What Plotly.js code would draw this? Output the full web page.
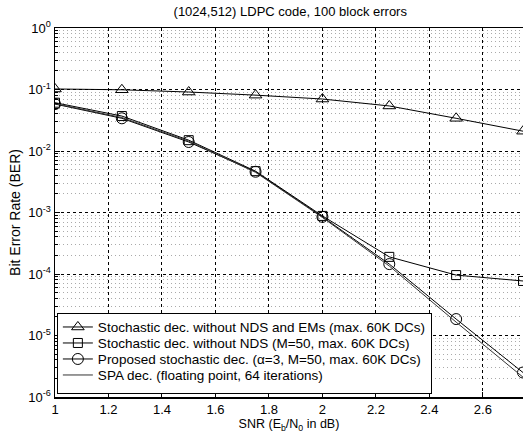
<!DOCTYPE html>
<html>
<head>
<meta charset="utf-8">
<script src="https://cdn.plot.ly/plotly-3.0.1.min.js"></script>
<style>html,body{margin:0;padding:0;background:#fff;}#chart{width:523px;height:438px;}</style>
</head>
<body>
<div id="chart"></div>
<script>
const snr = [1.0, 1.25, 1.5, 1.75, 2.0, 2.25, 2.5, 2.75];
const berNoNdsNoEm = [0.102, 0.099, 0.091, 0.081, 0.070, 0.054, 0.034, 0.021];
const berNoNds = [0.061, 0.037, 0.015, 0.0047, 0.00088, 0.00019, 0.000096, 0.000077];
const berProposed = [0.058, 0.034, 0.014, 0.0046, 0.00085, 0.000145, 0.0000185, 0.0000025];
const berSpa = [0.059, 0.035, 0.0145, 0.0045, 0.00083, 0.000135, 0.0000165, 0.0000021];
const names = [
  'Stochastic dec. without NDS and EMs (max. 60K DCs)',
  'Stochastic dec. without NDS (M=50, max. 60K DCs)',
  'Proposed stochastic dec. (\u03b1=3, M=50, max. 60K DCs)',
  'SPA dec. (floating point, 64 iterations)'
];
const yTickVals = [1e-6, 1e-5, 1e-4, 1e-3, 1e-2, 1e-1, 1];
const yTickText = ['10<sup>-6</sup>', '10<sup>-5</sup>', '10<sup>-4</sup>', '10<sup>-3</sup>', '10<sup>-2</sup>', '10<sup>-1</sup>', '10<sup>0</sup>'];
const xTickVals = [1, 1.2, 1.4, 1.6, 1.8, 2, 2.2, 2.4, 2.6];
const xTickText = ['1', '1.2', '1.4', '1.6', '1.8', '2', '2.2', '2.4', '2.6'];

const minorY = [];
for (let e = -6; e < 0; e++) for (let m = 2; m <= 9; m++) minorY.push(m * Math.pow(10, e));

const traces = [
  {x: snr, y: berNoNdsNoEm, name: names[0], mode: 'lines+markers',
   line: {color: '#000', width: 1}, marker: {symbol: 'triangle-up-open', size: 11, color: '#000', line: {width: 1}}},
  {x: snr, y: berNoNds, name: names[1], mode: 'lines+markers',
   line: {color: '#000', width: 1}, marker: {symbol: 'square-open', size: 9, color: '#000', line: {width: 1}}},
  {x: snr, y: berProposed, name: names[2], mode: 'lines+markers',
   line: {color: '#000', width: 1}, marker: {symbol: 'circle-open', size: 11, color: '#000', line: {width: 1}}},
  {x: snr, y: berSpa, name: names[3], mode: 'lines',
   line: {color: '#333', width: 1}}
];

const layout = {
  width: 523, height: 438,
  margin: {l: 55, r: 0, t: 28, b: 41},
  paper_bgcolor: '#fff', plot_bgcolor: '#fff',
  font: {family: 'Liberation Sans, Arial, sans-serif', size: 13, color: '#000'},
  title: {text: '(1024,512) LDPC code, 100 block errors', font: {size: 13}, x: 0.555, xanchor: 'center', y: 0.973, yanchor: 'middle'},
  showlegend: true,
  legend: {x: 0.004, y: 0.008, xanchor: 'left', yanchor: 'bottom', bgcolor: '#fff', bordercolor: '#000', borderwidth: 1,
           font: {size: 13.5}, tracegroupgap: 0, itemwidth: 30},
  xaxis: {
    range: [1, 2.75], tickmode: 'array', tickvals: xTickVals, ticktext: xTickText,
    showline: true, linecolor: '#000', linewidth: 1.5, mirror: true,
    ticks: 'inside', ticklen: 5, tickcolor: '#000',
    showgrid: true, gridcolor: '#000', gridwidth: 1, griddash: '3px,3px',
    zeroline: false, tickfont: {size: 13},
    title: {text: 'SNR (E<sub>b</sub>/N<sub>0</sub> in dB)', font: {size: 12.5}, standoff: 1}
  },
  yaxis: {
    type: 'log', range: [-6, 0], tickmode: 'array', tickvals: yTickVals, ticktext: yTickText,
    showline: true, linecolor: '#000', linewidth: 1.5, mirror: false,
    ticks: 'inside', ticklen: 5, tickcolor: '#000',
    showgrid: true, gridcolor: '#000', gridwidth: 1, griddash: '3px,3px',
    zeroline: false, tickfont: {size: 13},
    minor: {tickmode: 'array', tickvals: minorY, ticks: 'inside', ticklen: 3, tickcolor: '#000',
            showgrid: true, gridcolor: '#aaa', gridwidth: 1, griddash: '1px,3px'},
    title: {text: 'Bit Error Rate (BER)', font: {size: 14}, standoff: 4}
  }
};

function tightenLegend(gd) {
  try {
    const leg = gd.querySelector('.legend');
    if (!leg) return;
    const items = Array.from(leg.querySelectorAll('.traces'));
    if (items.length < 2) return;
    const parse = t => /translate\(\s*([-\d.e]+)[ ,]+([-\d.e]+)\s*\)/.exec(t || '');
    const m0 = parse(items[0].getAttribute('transform'));
    const mL = parse(items[items.length - 1].getAttribute('transform'));
    if (!m0 || !mL) return;
    const y0 = +m0[2] - 2;
    const step = 16;
    items.forEach((it, i) => {
      const m = parse(it.getAttribute('transform'));
      it.setAttribute('transform', 'translate(' + m[1] + ',' + (y0 + i * step) + ')');
    });
    const shrink = (+mL[2]) - (y0 + (items.length - 1) * step) - 2;
    const bg = leg.querySelector('rect.bg');
    if (bg) bg.setAttribute('height', (+bg.getAttribute('height')) - shrink);
    const lm = parse(leg.getAttribute('transform'));
    if (lm) leg.setAttribute('transform', 'translate(' + lm[1] + ',' + (+lm[2] + shrink) + ')');
  } catch (e) {}
}

Plotly.newPlot('chart', traces, layout, {displayModeBar: false, staticPlot: true}).then(tightenLegend);
</script>
</body>
</html>
